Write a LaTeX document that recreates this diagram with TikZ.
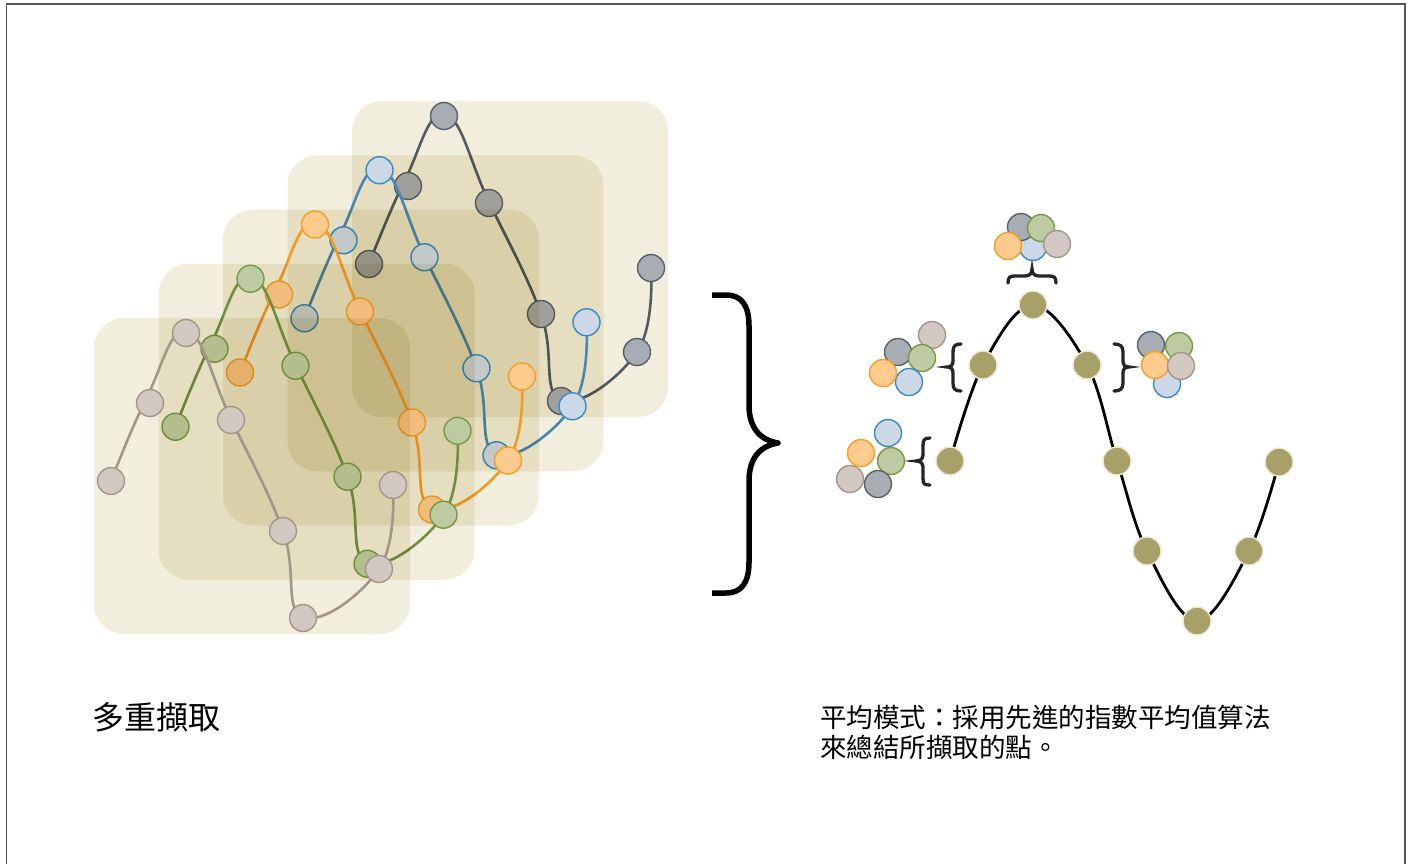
\documentclass[tikz,border=0pt]{standalone}
\usepackage{fontspec}
\newfontfamily\cjk{Noto Sans CJK TC}
\definecolor{gline}{HTML}{525B62}
\definecolor{gfill}{HTML}{A8ACB3}
\definecolor{gdraw}{HTML}{56616B}
\definecolor{bline}{HTML}{4A86B3}
\definecolor{bfill}{HTML}{CDD8E6}
\definecolor{bdraw}{HTML}{3A89C3}
\definecolor{oline}{HTML}{F39A1E}
\definecolor{ofill}{HTML}{FECB8F}
\definecolor{odraw}{HTML}{F59E26}
\definecolor{vline}{HTML}{6F8F3F}
\definecolor{vfill}{HTML}{BECBA2}
\definecolor{vdraw}{HTML}{789842}
\definecolor{tline}{HTML}{A39588}
\definecolor{tfill}{HTML}{D3C8C1}
\definecolor{tdraw}{HTML}{A39587}
\definecolor{rectc}{RGB}{242,238,222}
\definecolor{olivec}{HTML}{A7A169}
\definecolor{creamc}{HTML}{EFE9D3}
\definecolor{framec}{RGB}{85,85,85}
\tikzset{
  dot/.style={circle, minimum size=27pt, inner sep=0pt, line width=1.4pt},
  gdot/.style={dot, fill=gfill, draw=gdraw},
  bdot/.style={dot, fill=bfill, draw=bdraw},
  odot/.style={dot, fill=ofill, draw=odraw},
  vdot/.style={dot, fill=vfill, draw=vdraw},
  tdot/.style={dot, fill=tfill, draw=tdraw},
  rdot/.style={circle, minimum size=28pt, inner sep=0pt, line width=1.4pt, fill=olivec, draw=creamc},
  wave/.style={line width=2.6pt},
  layerbox/.style={fill=rectc, rounded corners=30pt},
  bigbrace/.style={line width=5.5pt, line join=round},
  smallbrace/.style={line width=3.3pt, line cap=round, color=black!85},
  framel/.style={draw=framec, line width=1.4pt}
}
\newcommand\wavelayer[3]{%
  \begin{scope}[shift={({#1*64.5},{-#1*54.25})}]
    \begin{scope}[blend mode=multiply]
      \fill[layerbox] (94,318) rectangle (410,634);
    \end{scope}
    \foreach \i/\px/\py in {1/111/481,2/147/397,3/187/331,4/231/419,5/283/531,6/303/617,7/379/569,8/393/485}
      \coordinate (C#1-\i) at (\px,\py);
    \foreach \i/\px/\py in {1/111/481,2/150/403,3/186/333,4/231/420,5/283/531,6/303/618,7/379/569,8/393/485}
      \coordinate (L#1-\i) at (\px,\py);
    \draw[wave, draw=#2] plot[smooth, tension=0.72] coordinates {(C#1-1) (C#1-2) (C#1-3) (C#1-4) (C#1-5) (C#1-6) (C#1-7) (C#1-8)};
    \foreach \i in {1,...,8}
      \node[#3] (N#1-\i) at (L#1-\i) {};
  \end{scope}}
\begin{document}
\begin{tikzpicture}[x=1pt,y=-1pt]
\useasboundingbox (0,0) rectangle (1410,864);
\fill[white] (0,0) rectangle (1410,864);
% frame
\draw[framel] (6.5,864) -- (6.5,4) -- (1405,4) -- (1405,864);
% layered samples
\wavelayer{4}{gline}{gdot}
\wavelayer{3}{bline}{bdot}
\wavelayer{2}{oline}{odot}
\wavelayer{1}{vline}{vdot}
\wavelayer{0}{tline}{tdot}
% big brace
\draw[bigbrace] (712,295) -- (726,295) .. controls (742,295) and (749,306) .. (749,326) -- (749,405) .. controls (749,428) and (760,440) .. (778,443) .. controls (760,446) and (749,458) .. (749,481) -- (749,562) .. controls (749,582) and (742,593) .. (726,593) -- (712,593);
% averaged curve
\foreach \i/\px/\py in {1/950/461,2/983/365,3/1033/305,4/1087/365,5/1117/461,6/1147/551,7/1197/621,8/1249/551,9/1279/462}
  \coordinate (R\i) at (\px,\py);
\draw[line width=2.8pt] plot[smooth, tension=0.6] coordinates {(R1) (R2) (R3) (R4) (R5) (R6) (R7) (R8) (R9)};
\foreach \i in {1,...,9}
  \node[rdot] (M\i) at (R\i) {};
% top cluster
\node[bdot] (tb) at (1033,247) {};
\node[gdot] (tg) at (1021,227) {};
\node[vdot] (tv) at (1041,228) {};
\node[odot] (to) at (1008,246) {};
\node[tdot] (tt) at (1057,244) {};
% upper-left cluster
\node[tdot] (ut) at (932,335) {};
\node[gdot] (ug) at (898,352) {};
\node[vdot] (uv) at (922,358) {};
\node[bdot] (ub) at (909,382) {};
\node[odot] (uo) at (883,373) {};
% lower-left cluster
\node[bdot] (lb) at (888,433) {};
\node[odot] (lo) at (861,453) {};
\node[vdot] (lv) at (891,461) {};
\node[tdot] (lt) at (850,479) {};
\node[gdot] (lg) at (878,484) {};
% right cluster
\node[gdot] (rg) at (1151,345) {};
\node[vdot] (rv) at (1179,346) {};
\node[bdot] (rb) at (1167,384) {};
\node[odot] (ro) at (1155,365) {};
\node[tdot] (rt) at (1181,366) {};
% small braces
\draw[smallbrace] (1008,283) .. controls (1008,277) and (1010,276) .. (1015,276) -- (1025,276) .. controls (1029,276) and (1032,274) .. (1032,269) .. controls (1032,274) and (1035,276) .. (1039,276) -- (1049,276) .. controls (1054,276) and (1056,277) .. (1056,283);
\draw[smallbrace] (961,344) .. controls (955,344) and (953,346) .. (953,352) -- (953,361) .. controls (953,365) and (951,367) .. (947,367) .. controls (951,367) and (953,369) .. (953,373) -- (953,383) .. controls (953,389) and (955,391) .. (961,391);
\draw[smallbrace] (930,438) .. controls (924,438) and (923,440) .. (923,446) -- (923,455) .. controls (923,459) and (920,461) .. (916,461) .. controls (920,461) and (923,463) .. (923,467) -- (923,478) .. controls (923,484) and (924,485) .. (930,485);
\draw[smallbrace] (1114,344) .. controls (1120,344) and (1123,346) .. (1123,352) -- (1123,361) .. controls (1123,365) and (1125,367) .. (1129,367) .. controls (1125,367) and (1123,369) .. (1123,373) -- (1123,383) .. controls (1123,389) and (1120,391) .. (1114,391);
% texts
\node[anchor=west, inner sep=0pt, font=\cjk\fontsize{32}{38}\selectfont] (t1) at (92,717) {多重擷取};
\node[anchor=base west, inner sep=0pt, align=left, font=\cjk\fontsize{26.5}{30.5}\selectfont] (t2) at (820,757.5) {平均模式：採用先進的指數平均值算法\\來總結所擷取的點。};
\end{tikzpicture}
\end{document}
